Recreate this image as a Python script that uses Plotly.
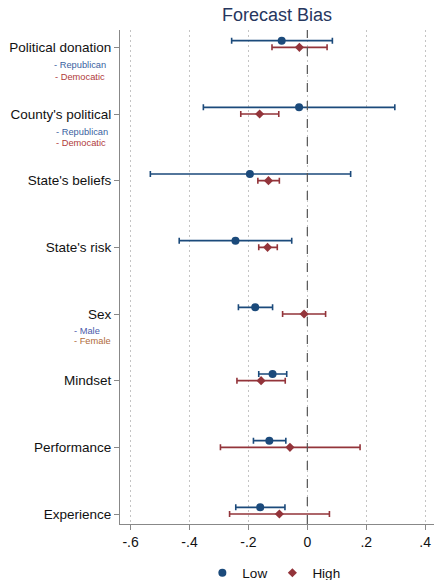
import plotly.graph_objects as go

categories = ["Political donation", "County's political", "State's beliefs", "State's risk",
              "Sex", "Mindset", "Performance", "Experience"]
low_est = [-0.087, -0.028, -0.195, -0.244, -0.177, -0.118, -0.129, -0.160]
low_lo = [-0.257, -0.353, -0.533, -0.435, -0.234, -0.165, -0.183, -0.243]
low_hi = [0.085, 0.297, 0.147, -0.053, -0.118, -0.070, -0.073, -0.076]
high_est = [-0.027, -0.162, -0.132, -0.135, -0.011, -0.157, -0.059, -0.095]
high_lo = [-0.120, -0.226, -0.168, -0.165, -0.084, -0.239, -0.295, -0.264]
high_hi = [0.067, -0.097, -0.095, -0.102, 0.062, -0.075, 0.179, 0.075]
xtick_vals = [-0.6, -0.4, -0.2, 0, 0.2, 0.4]
xtick_text = ["-.6", "-.4", "-.2", "0", ".2", ".4"]

BLUE = "#1b4a7b"
RED = "#93343a"
FONT = "Liberation Sans, Arial, sans-serif"

n = len(categories)
ypos = [n - i for i in range(n)]
y_low = [y + 0.1 for y in ypos]

fig = go.Figure()
fig.add_trace(go.Scatter(
    x=low_est, y=y_low, mode="markers", name="Low",
    marker=dict(symbol="circle", size=8, color=BLUE),
    error_x=dict(type="data", symmetric=False,
                 array=[h - e for h, e in zip(low_hi, low_est)],
                 arrayminus=[e - l for e, l in zip(low_est, low_lo)],
                 color=BLUE, thickness=1.6, width=3),
))
fig.add_trace(go.Scatter(
    x=high_est, y=ypos, mode="markers", name="High",
    marker=dict(symbol="diamond", size=7, color=RED),
    error_x=dict(type="data", symmetric=False,
                 array=[h - e for h, e in zip(high_hi, high_est)],
                 arrayminus=[e - l for e, l in zip(high_est, high_lo)],
                 color=RED, thickness=1.6, width=3),
))

fig.add_vline(x=0, line=dict(color="#555555", width=1.2, dash="dash"))

sublabels = [
    (0, "- Republican", "#3b5f9f", 0.27, 52),
    (0, "- Democatic", "#b03a3a", 0.44, 53),
    (1, "- Republican", "#3b5f9f", 0.27, 54),
    (1, "- Democatic", "#b03a3a", 0.43, 54),
    (4, "- Male", "#4b5bab", 0.25, 72),
    (4, "- Female", "#b06a3a", 0.41, 72),
]
for idx, txt, col, off, px in sublabels:
    fig.add_annotation(text=txt, xref="paper", yref="y",
                       x=(px - 120) / 314, y=ypos[idx] - off,
                       xanchor="left", yanchor="middle", showarrow=False,
                       font=dict(family=FONT, size=9.3, color=col))

fig.update_layout(
    width=434, height=580,
    margin=dict(l=120, r=0, t=30, b=56, autoexpand=False),
    paper_bgcolor="white", plot_bgcolor="white",
    font=dict(family=FONT, color="#111111"),
    title=dict(text="Forecast Bias", x=0.5, xref="paper", y=1 - 15 / 580,
               yanchor="middle", xanchor="center",
               font=dict(family=FONT, size=18, color="#26365e")),
    showlegend=True,
    legend=dict(orientation="h", x=0.49, xanchor="center",
                yref="container", y=1 - 573 / 580, yanchor="middle",
                font=dict(family=FONT, size=13.5, color="#111111"),
                itemwidth=30, tracegroupgap=0),
    xaxis=dict(range=[-0.636, 0.43], tickvals=xtick_vals, ticktext=xtick_text,
               showgrid=True, gridcolor="#c4c4c4", griddash="1.5px,3.5px", gridwidth=1,
               zeroline=False, showline=True, linecolor="#888888", linewidth=1,
               ticks="outside", ticklen=5, tickcolor="#888888",
               tickfont=dict(family=FONT, size=14, color="#111111")),
    yaxis=dict(range=[0.85, 8.26], tickvals=ypos, ticktext=categories,
               showgrid=False, zeroline=False, showline=True, linecolor="#888888",
               linewidth=1, ticks="outside", ticklen=5, tickcolor="#888888",
               tickfont=dict(family=FONT, size=13.5, color="#111111")),
)

fig.write_html("out.html", config={"displayModeBar": False},
               post_script="document.body.style.margin='0';document.body.style.padding='0';")
